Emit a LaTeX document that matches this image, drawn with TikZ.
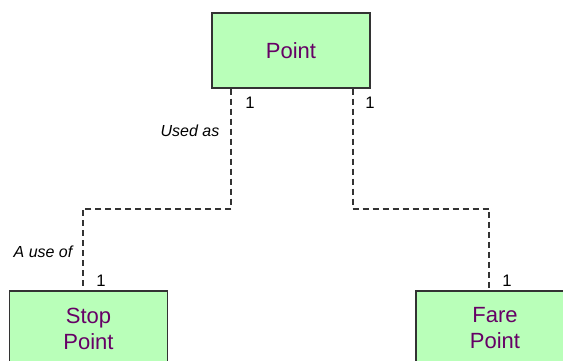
\documentclass[tikz,border=0pt]{standalone}
\usepackage{fontspec}
\setmainfont{Liberation Sans}
\usetikzlibrary{calc}

\definecolor{classfill}{RGB}{185,255,185}
\definecolor{classtext}{RGB}{102,0,102}

\tikzset{
  classbox/.style={draw=black!80, line width=0.9pt, fill=classfill,
    text=classtext, minimum width=118.5pt, minimum height=56.25pt,
    align=center, font=\fontsize{16.5}{19.5}\selectfont},
  assoc/.style={draw=black!80, line width=1.5pt, dash pattern=on 4.5pt off 3pt},
  mult/.style={font=\fontsize{12.5}{14}\selectfont},
  role/.style={font=\fontsize{12}{14}\selectfont\itshape}
}

\begin{document}
\begin{tikzpicture}[x=0.75pt,y=-0.75pt]
\useasboundingbox (0,0) rectangle (563,360);
\clip (0,0) rectangle (563,360);

\node[classbox] (point) at (291,50.5) {Point};
\node[classbox] (stop) at (88.5,328.5) {Stop\\Point};
\node[classbox] (fare) at (495,328.5) {Fare\\Point};

% association ends
\coordinate (pointL) at ($(point.south west)+(20,0)$);
\coordinate (pointR) at ($(point.south east)+(-18,0)$);
\coordinate (stopT) at ($(stop.north west)+(74,0)$);
\coordinate (fareT) at ($(fare.north west)+(74,0)$);

\draw[assoc] (pointL) -- ++(0,120) -| (stopT);
\draw[assoc] (pointR) -- ++(0,120) -| (fareT);

% multiplicities and roles
\node[mult] (m1) at (250,103) {1};
\node[mult] (m2) at (370,103) {1};
\node[mult] (m3) at (101,281) {1};
\node[mult] (m4) at (507,281) {1};
\node[role] (usedas) at (190,131) {Used as};
\node[role] (useof) at (43,252) {A use of};
\end{tikzpicture}
\end{document}
